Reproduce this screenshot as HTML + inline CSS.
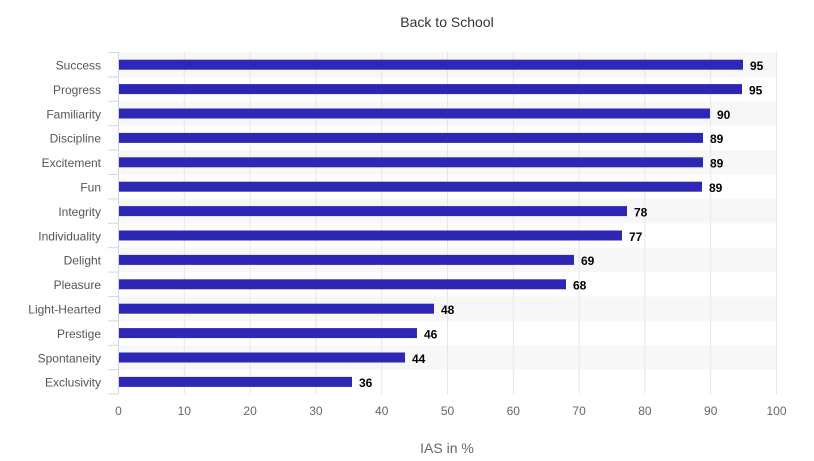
<!DOCTYPE html>
<html><head><meta charset="utf-8"><style>
html,body{margin:0;padding:0;background:#fff;}
svg{display:block;font-family:"Liberation Sans",sans-serif;}
</style></head><body>
<svg width="814" height="461" viewBox="0 0 814 461" xmlns="http://www.w3.org/2000/svg">
<text x="447" y="27" text-anchor="middle" font-size="14" fill="#333">Back to School</text>
<g fill="#f7f7f7">
<rect x="118" y="52.5" width="658" height="24.4"/>
<rect x="118" y="101.3" width="658" height="24.4"/>
<rect x="118" y="150.1" width="658" height="24.4"/>
<rect x="118" y="198.9" width="658" height="24.4"/>
<rect x="118" y="247.7" width="658" height="24.4"/>
<rect x="118" y="296.5" width="658" height="24.4"/>
<rect x="118" y="345.3" width="658" height="24.4"/>
</g>
<g stroke="#e6e6e6" stroke-width="1">
<line x1="184.3" y1="52" x2="184.3" y2="394"/><line x1="250.1" y1="52" x2="250.1" y2="394"/>
<line x1="315.9" y1="52" x2="315.9" y2="394"/><line x1="381.7" y1="52" x2="381.7" y2="394"/>
<line x1="447.5" y1="52" x2="447.5" y2="394"/><line x1="513.3" y1="52" x2="513.3" y2="394"/>
<line x1="579.1" y1="52" x2="579.1" y2="394"/><line x1="644.9" y1="52" x2="644.9" y2="394"/>
<line x1="710.7" y1="52" x2="710.7" y2="394"/><line x1="776.5" y1="52" x2="776.5" y2="394"/>
</g>
<g stroke="#ccd6eb" stroke-width="1">
<line x1="118.5" y1="52" x2="118.5" y2="394"/>
<line x1="108" y1="52.5" x2="118" y2="52.5"/><line x1="108" y1="76.9" x2="118" y2="76.9"/>
<line x1="108" y1="101.3" x2="118" y2="101.3"/><line x1="108" y1="125.7" x2="118" y2="125.7"/>
<line x1="108" y1="150.1" x2="118" y2="150.1"/><line x1="108" y1="174.5" x2="118" y2="174.5"/>
<line x1="108" y1="198.9" x2="118" y2="198.9"/><line x1="108" y1="223.3" x2="118" y2="223.3"/>
<line x1="108" y1="247.7" x2="118" y2="247.7"/><line x1="108" y1="272.1" x2="118" y2="272.1"/>
<line x1="108" y1="296.5" x2="118" y2="296.5"/><line x1="108" y1="320.9" x2="118" y2="320.9"/>
<line x1="108" y1="345.3" x2="118" y2="345.3"/><line x1="108" y1="369.7" x2="118" y2="369.7"/>
<line x1="108" y1="394" x2="118" y2="394"/>
</g>
<g fill="#2e27b5">
<rect x="119" y="59.7" width="624" height="10"/>
<rect x="119" y="84.1" width="623" height="10"/>
<rect x="119" y="108.5" width="591" height="10"/>
<rect x="119" y="132.9" width="584" height="10"/>
<rect x="119" y="157.3" width="584" height="10"/>
<rect x="119" y="181.7" width="583" height="10"/>
<rect x="119" y="206.1" width="508" height="10"/>
<rect x="119" y="230.5" width="503" height="10"/>
<rect x="119" y="254.9" width="455" height="10"/>
<rect x="119" y="279.3" width="447" height="10"/>
<rect x="119" y="303.7" width="315" height="10"/>
<rect x="119" y="328.1" width="298" height="10"/>
<rect x="119" y="352.5" width="286" height="10"/>
<rect x="119" y="376.9" width="233" height="10"/>
</g>
<g font-size="12" fill="#555" text-anchor="end">
<text x="101" y="69.5">Success</text><text x="101" y="93.9">Progress</text>
<text x="101" y="118.3">Familiarity</text><text x="101" y="142.7">Discipline</text>
<text x="101" y="167.1">Excitement</text><text x="101" y="191.5">Fun</text>
<text x="101" y="215.9">Integrity</text><text x="101" y="240.3">Individuality</text>
<text x="101" y="264.7">Delight</text><text x="101" y="289.1">Pleasure</text>
<text x="101" y="313.5">Light-Hearted</text><text x="101" y="337.9">Prestige</text>
<text x="101" y="362.3">Spontaneity</text><text x="101" y="386.7">Exclusivity</text>
</g>
<g font-size="12" font-weight="bold" fill="#000">
<text x="750" y="70">95</text><text x="749" y="94.4">95</text>
<text x="717" y="118.8">90</text><text x="710" y="143.2">89</text>
<text x="710" y="167.6">89</text><text x="709" y="192">89</text>
<text x="634" y="216.4">78</text><text x="629" y="240.8">77</text>
<text x="581" y="265.2">69</text><text x="573" y="289.6">68</text>
<text x="441" y="314">48</text><text x="424" y="338.4">46</text>
<text x="412" y="362.8">44</text><text x="359" y="387.2">36</text>
</g>
<g font-size="12" fill="#666" text-anchor="middle">
<text x="118.5" y="415">0</text><text x="184.3" y="415">10</text><text x="250.1" y="415">20</text>
<text x="315.9" y="415">30</text><text x="381.7" y="415">40</text><text x="447.5" y="415">50</text>
<text x="513.3" y="415">60</text><text x="579.1" y="415">70</text><text x="644.9" y="415">80</text>
<text x="710.7" y="415">90</text><text x="776.5" y="415">100</text>
</g>
<text x="447" y="453" text-anchor="middle" font-size="14" fill="#666">IAS in %</text>
</svg>
</body></html>
